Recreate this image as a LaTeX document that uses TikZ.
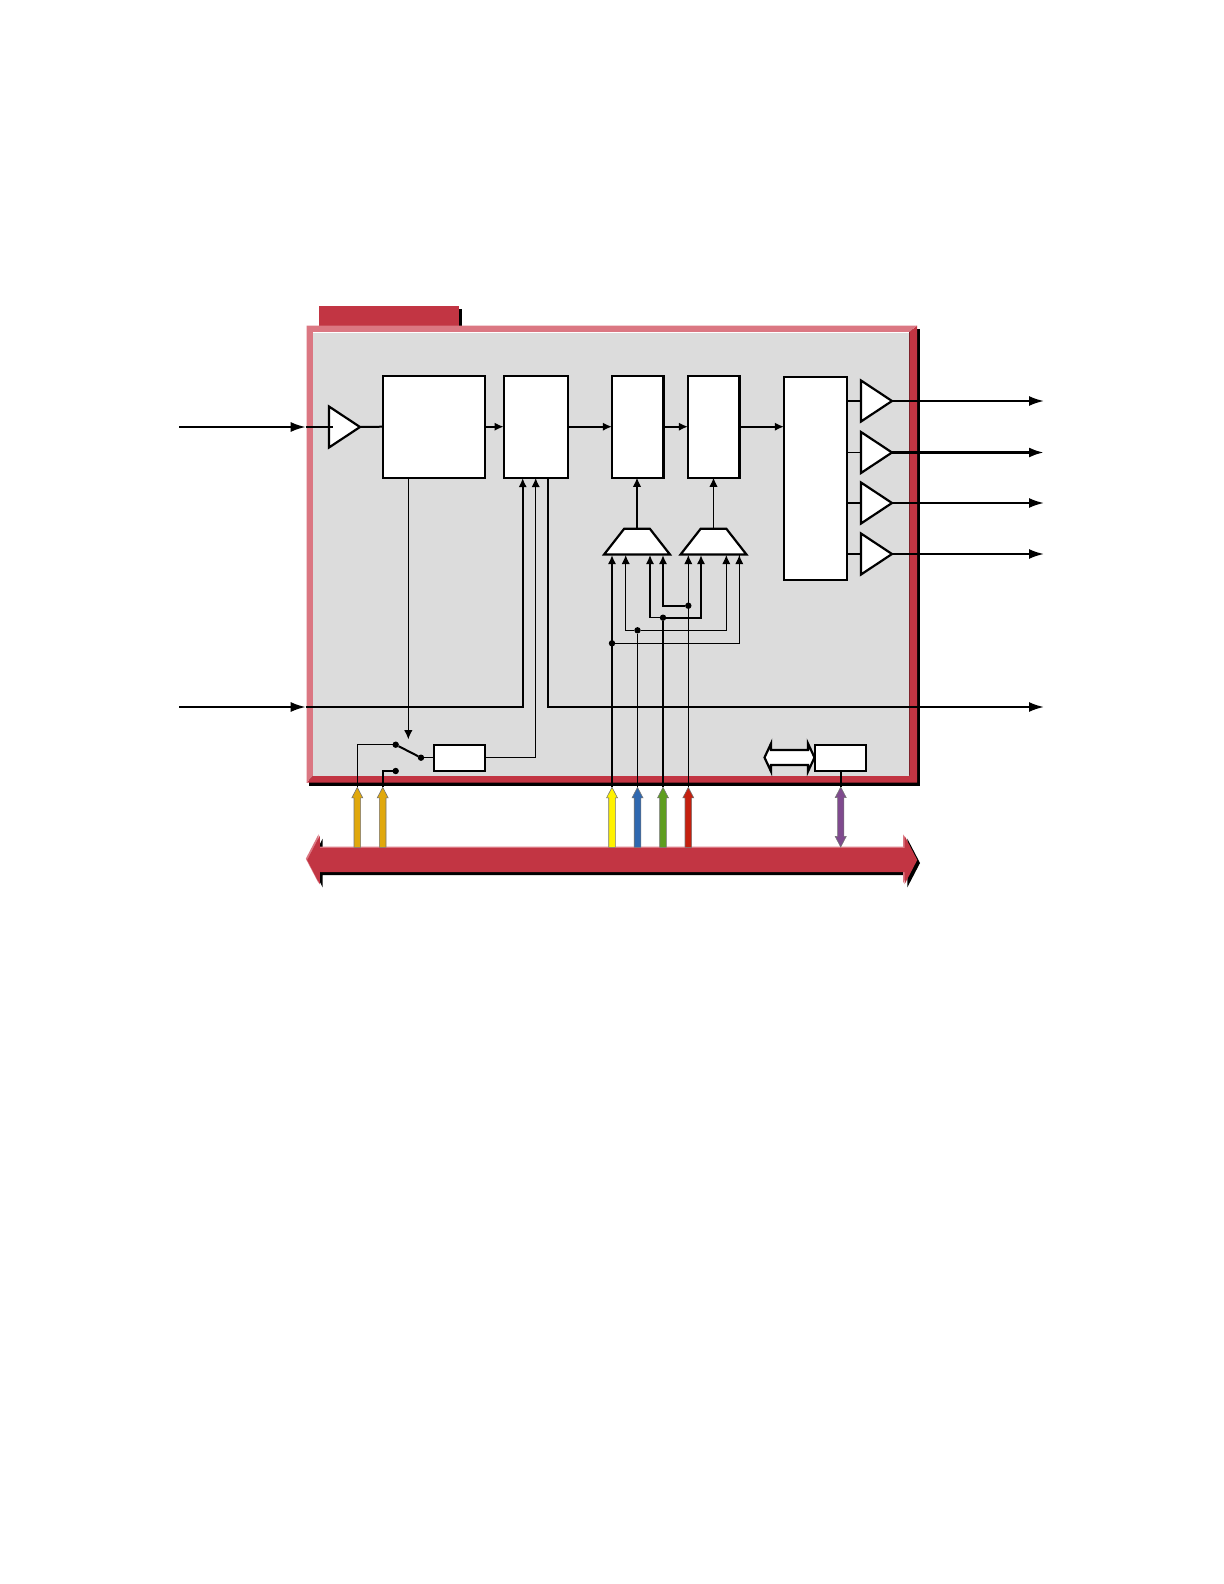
\documentclass[tikz,border=0pt]{standalone}
\usetikzlibrary{arrows.meta,shapes.geometric,shapes.arrows}

\definecolor{busred}{HTML}{C23543}
\definecolor{buspink}{HTML}{DB7782}
\definecolor{panelgray}{HTML}{DCDCDC}
\definecolor{sigamber}{HTML}{E0A80C}
\definecolor{sigyellow}{HTML}{FFF200}
\definecolor{sigblue}{HTML}{2F68B0}
\definecolor{siggreen}{HTML}{5E9E20}
\definecolor{sigred}{HTML}{C4200F}
\definecolor{sigpurple}{HTML}{7F4A8E}

\begin{document}
\begin{tikzpicture}[
  x=0.5pt,y=-0.5pt,
  wire/.style={draw=black,line width=0.55pt},
  mid/.style={draw=black,line width=0.75pt},
  heavy/.style={draw=black,line width=1pt},
  tipin/.style={-{Latex[length=4.6pt,width=4.2pt]}},
  tipout/.style={-{Latex[length=7.5pt,width=5pt]}},
  block/.style={draw=black,line width=1.1pt,fill=white,rectangle,inner sep=0pt,outer sep=0pt},
  amp/.style={draw=black,line width=1.1pt,fill=white,isosceles triangle,isosceles triangle stretches,
    minimum width=20.5pt,minimum height=15.5pt,inner sep=0pt,outer sep=0pt,anchor=apex},
  mux/.style={draw=black,line width=1.1pt,fill=white,trapezium,trapezium left angle=52,
    trapezium right angle=52,minimum width=33pt,minimum height=12.8pt,inner sep=1pt,outer sep=0pt},
  dot/.style={fill=black,circle,inner sep=0pt,outer sep=0pt,minimum size=3.2pt},
  sigarrow/.style={single arrow,draw=black!55,line width=0.3pt,rotate=90,inner xsep=0pt,inner ysep=1.5pt,outer sep=0pt,
    minimum height=30pt,single arrow head extend=1.1pt,single arrow tip angle=55},
  busarrow/.style={double arrow,inner xsep=0pt,inner ysep=5.8pt,outer sep=0pt,minimum height=305pt,
    double arrow head extend=6.2pt,double arrow tip angle=125},
]
\useasboundingbox (0,0) rectangle (1224,1584);

% frame
\fill[black] (309,329) -- (920,329) -- (920,785.7) -- (309,785.7) -- cycle;
\fill[black] (456,309) rectangle (461.7,327);
\fill[busred] (319,306) rectangle (459,327);
\fill[busred] (306.5,782.7) -- (917,782.7) -- (917,325.7) -- (909.3,332) -- (909.3,775.7) -- (313,775.7) -- cycle;
\fill[buspink] (306.5,782.7) -- (306.5,325.7) -- (917,325.7) -- (909.3,332) -- (313,332) -- (313,775.7) -- cycle;
\fill[panelgray] (313,332) rectangle (909.3,775.7);
\draw[white,line width=0.5pt] (313,332) -- (909.3,332);

% bus
\node[busarrow,fill=black] (busshade) at (615,863) {};
\node[busarrow,fill=buspink] (buslight) at (610.8,858.7) {};
\node[busarrow,fill=busred] (bus) at (612.2,860) {};

% blocks
\node[block,minimum width=51pt,minimum height=51pt] (input) at (433.8,426.7) {};
\node[block,minimum width=32pt,minimum height=51pt] (latch) at (535.7,426.7) {};
\node[block,minimum width=25.7pt,minimum height=51pt] (stagea) at (637.7,426.7) {};
\node[block,minimum width=25.7pt,minimum height=51pt] (stageb) at (713.7,426.7) {};
\node[block,minimum width=31.5pt,minimum height=101.5pt] (driver) at (815.5,478.3) {};
\node[block,minimum width=25.7pt,minimum height=13pt] (hold) at (459.5,757.7) {};
\node[block,minimum width=25.5pt,minimum height=13pt] (ctrl) at (840.7,757.7) {};

% amplifiers
\node[amp] (ampin) at (360,427) {};
\node[amp] (ampa) at (892,401) {};
\node[amp] (ampb) at (892,452.5) {};
\node[amp] (ampc) at (892,503) {};
\node[amp] (ampd) at (892,554) {};

% muxes
\node[mux] (muxa) at (637,541.6) {};
\node[mux] (muxb) at (713.5,541.6) {};

% bus taps
\node[sigarrow,fill=sigamber] (tapa) at (357.3,820.5) {};
\node[sigarrow,fill=sigamber] (tapb) at (382.7,820.5) {};
\node[sigarrow,fill=sigyellow] (tapc) at (612,820.5) {};
\node[sigarrow,fill=sigblue] (tapd) at (637.5,820.5) {};
\node[sigarrow,fill=siggreen] (tape) at (663,820.5) {};
\node[sigarrow,fill=sigred] (tapf) at (688.3,820.5) {};
\node[double arrow,draw=black!55,fill=sigpurple,line width=0.3pt,rotate=90,inner xsep=0pt,inner ysep=1.4pt,outer sep=0pt,
  minimum height=30pt,double arrow head extend=1.2pt,double arrow tip angle=55] (tapg) at (840.7,817) {};
\node[double arrow,draw=black,fill=white,line width=1.1pt,inner xsep=0pt,inner ysep=3.2pt,outer sep=0pt,
  minimum height=25pt,double arrow head extend=3.3pt,double arrow tip angle=130] (link) at (789.5,757.5) {};

% switch
\node[dot] (swa) at (395.7,744.7) {};
\node[dot] (swb) at (421,757.7) {};
\node[dot] (swc) at (395.7,771) {};
\coordinate (swin) at (408.3,739.3);

% free ends
\coordinate (ina) at (179,427);
\coordinate (inb) at (179,707);
\coordinate (edgea) at (305.7,427);
\coordinate (edgeb) at (305.7,707);
\coordinate (outa) at (1044,401);
\coordinate (outb) at (1044,452.5);
\coordinate (outc) at (1044,503);
\coordinate (outd) at (1044,554);
\coordinate (oute) at (1044,707);
\coordinate (latcha) at (522.7,478);
\coordinate (latchb) at (535.7,478);
\coordinate (latchc) at (548.3,478);

% mux inputs
\coordinate (ma) at (612,555);
\coordinate (mb) at (625.7,555);
\coordinate (mc) at (650,555);
\coordinate (md) at (663,555);
\coordinate (me) at (688.3,555);
\coordinate (mf) at (701,555);
\coordinate (mg) at (726.3,555);
\coordinate (mh) at (739.3,555);

% joints
\node[dot] (joina) at (612,643.3) {};
\node[dot] (joinb) at (637.5,630.3) {};
\node[dot] (joinc) at (663,617.7) {};
\node[dot] (joind) at (688.3,605.7) {};

% main path
\draw[heavy,tipout] (ina) -- (edgea);
\draw[heavy] (edgea) -- (332.7,427);
\draw[heavy] (ampin.apex) -- (input.west);
\draw[heavy,tipin] (input.east) -- (latch.west);
\draw[heavy,tipin] (latch.east) -- (stagea.west);
\draw[heavy,tipin] (stagea.east) -- (stageb.west);
\draw[heavy,tipin] (stageb.east) -- (driver.west |- stageb.east);
\draw[wire] (driver.east |- ampa.apex) -- (ampa.lower side);
\draw[wire] (driver.east |- ampb.apex) -- (ampb.lower side);
\draw[wire] (driver.east |- ampc.apex) -- (ampc.lower side);
\draw[wire] (driver.east |- ampd.apex) -- (ampd.lower side);
\draw[heavy,tipout] (ampa.apex) -- (outa);
\draw[heavy,line width=1.4pt,tipout] (ampb.apex) -- (outb);
\draw[heavy,tipout] (ampc.apex) -- (outc);
\draw[heavy,tipout] (ampd.apex) -- (outd);

% second path
\draw[heavy,tipout] (inb) -- (edgeb);
\draw[heavy,tipin] (edgeb) -| (latcha);
\draw[wire,tipin] (hold.east) -| (latchb);
\draw[heavy,tipout] (latchc) |- (oute);

% switch wires
\draw[wire,tipin] (swin |- input.south) -- (swin);
\draw[wire] (tapa.tip) |- (swa);
\draw[heavy] (tapb.tip) |- (swc);
\draw[heavy] (swa) -- (swb);
\draw[wire] (swb) -- (hold.west);

% selects
\draw[wire,tipin] (muxa.north) -- (muxa.north |- stagea.south);
\draw[wire,tipin] (muxb.north) -- (muxb.north |- stageb.south);
\draw[heavy,tipin] (tapc.tip) -- (ma);
\draw[wire] (joina) -| (mh);
\draw[wire,tipin] (mh |- joina) -- (mh);
\draw[wire] (tapd.tip) -- (joinb);
\draw[wire,tipin] (joinb) -| (mb);
\draw[wire,tipin] (joinb) -| (mg);
\draw[heavy] (tape.tip) -- (joinc);
\draw[mid,tipin] (joinc) -| (mc);
\draw[heavy,tipin] (joinc) -| (mf);
\draw[wire,tipin] (tapf.tip) -- (me);
\draw[heavy,tipin] (joind) -| (md);

% control
\draw[heavy] (ctrl.south) -- (tapg.tip 1);
\end{tikzpicture}
\end{document}
